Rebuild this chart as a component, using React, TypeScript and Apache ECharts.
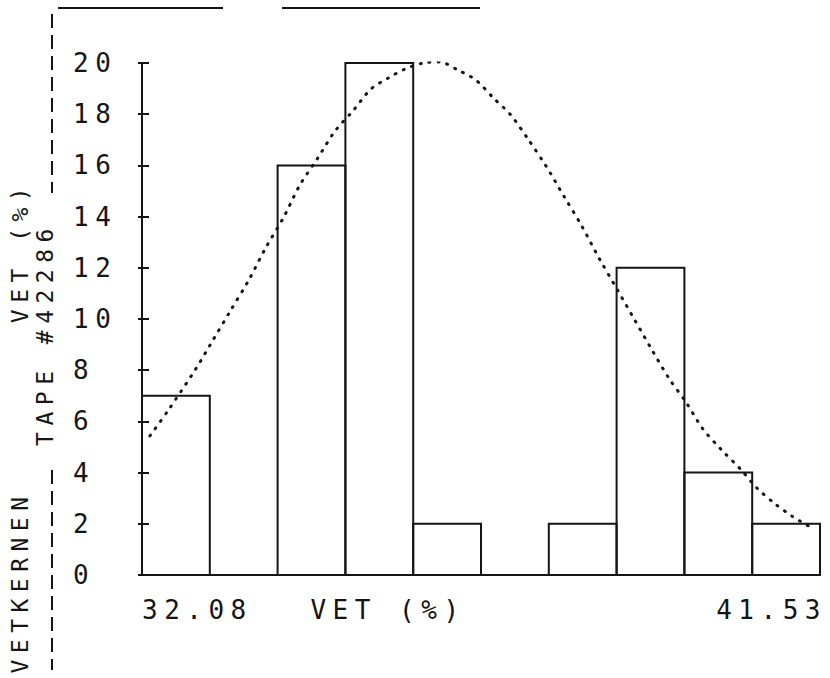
import React, { useEffect, useRef } from "react";
import * as echarts from "echarts";

// Histogram bins (VET %), edges and counts
const binEdges = [32.08, 33.025, 33.97, 34.915, 35.86, 36.805, 37.75, 38.695, 39.64, 40.585, 41.53];
const counts = [7, 0, 16, 20, 2, 0, 2, 12, 4, 2];

// Fitted normal curve (dotted)
const curveX = [32.19, 32.44, 32.82, 33.07, 33.31, 33.56, 33.81, 34.05, 34.28, 34.53, 34.77, 35.02, 35.27, 35.51, 35.75, 36.0, 36.23, 36.48, 36.73, 36.98, 37.22, 37.46, 37.71, 37.96, 38.21, 38.45, 38.7, 38.94, 39.18, 39.43, 39.66, 39.9, 40.16, 40.42, 40.65, 40.89, 41.14, 41.39];
const curveY = [5.43, 6.41, 8.01, 9.18, 10.31, 11.48, 12.81, 13.95, 15.23, 16.29, 17.34, 18.13, 18.98, 19.41, 19.77, 20.0, 20.04, 19.73, 19.34, 18.63, 17.97, 17.03, 15.98, 14.8, 13.63, 12.38, 11.17, 10.0, 8.83, 7.66, 6.76, 5.7, 4.88, 4.14, 3.4, 2.81, 2.3, 1.88];

// Axis settings and texts
const yMin = 0;
const yMax = 20;
const yInterval = 2;
const xTickLabels = ["32.08", "41.53"];
const xTitle = "VET (%)";
const yTitle = "VET (%)";
const tapeText = "TAPE #42286";
const sampleText = "VETKERNEN";

const INK = "#151515";
const MONO = "'DejaVu Sans Mono', 'Liberation Mono', monospace";
const css = "#root svg text { letter-spacing: 6.5px; }";

export default function App() {
  const ref = useRef<HTMLDivElement>(null);
  useEffect(() => {
    document.body.style.margin = "0";
    document.body.style.overflow = "hidden";
    const chart = echarts.init(ref.current!, null, { renderer: "svg" });
    const binData = counts.map((c, i) => [binEdges[i], binEdges[i + 1], c]);
    const xMin = binEdges[0];
    const xMax = binEdges[binEdges.length - 1];
    const option: any = {
      animation: false,
      backgroundColor: "#ffffff",
      grid: { left: 142, right: 10, top: 63, bottom: 103, containLabel: false },
      xAxis: {
        type: "value",
        min: xMin,
        max: xMax,
        interval: xMax - xMin,
        splitLine: { show: false },
        axisTick: { show: false },
        axisLine: { show: true, onZero: false, lineStyle: { color: INK, width: 2 } },
        axisLabel: {
          margin: 22,
          fontFamily: MONO,
          fontSize: 26,
          color: INK,
          showMinLabel: true,
          showMaxLabel: true,
          alignMinLabel: "left",
          alignMaxLabel: "right",
          padding: [0, -7, 0, 0],
          formatter: (v: number) => {
            let best = xTickLabels[0];
            let d = Infinity;
            xTickLabels.forEach((l) => {
              const dd = Math.abs(Number(l) - v);
              if (dd < d) { d = dd; best = l; }
            });
            return best;
          },
        },
      },
      yAxis: [
        {
          type: "value",
          min: yMin,
          max: yMax,
          interval: yInterval,
          position: "left",
          splitLine: { show: false },
          axisLine: { show: true, lineStyle: { color: INK, width: 2 } },
          axisTick: { show: true, length: 4, lineStyle: { color: INK, width: 2 } },
          axisLabel: {
            margin: 69,
            align: "left",
            fontFamily: MONO,
            fontSize: 26,
            color: INK,
            padding: [8, 0, 0, 0],
            formatter: (v: number) => String(v),
          },
        },
        {
          type: "value",
          min: yMin,
          max: yMax,
          interval: yInterval,
          position: "left",
          offset: 0,
          splitLine: { show: false },
          axisLine: { show: false },
          axisTick: { show: true, inside: true, length: 7, lineStyle: { color: INK, width: 2 } },
          axisLabel: { show: false },
        },
      ],
      series: [
        {
          type: "custom",
          xAxisIndex: 0,
          yAxisIndex: 0,
          encode: { x: [0, 1], y: 2 },
          data: binData,
          z: 2,
          renderItem: (params: any, api: any) => {
            const x0 = api.value(0);
            const x1 = api.value(1);
            const c = api.value(2);
            if (!c) return { type: "group", children: [] };
            const p0 = api.coord([x0, c]);
            const p1 = api.coord([x1, 0]);
            return {
              type: "rect",
              shape: { x: p0[0], y: p0[1], width: p1[0] - p0[0], height: p1[1] - p0[1] },
              style: { fill: "none", stroke: INK, lineWidth: 2 },
            };
          },
        },
        {
          type: "line",
          xAxisIndex: 0,
          yAxisIndex: 0,
          data: curveX.map((x, i) => [x, curveY[i]]),
          showSymbol: false,
          smooth: 0.3,
          z: 3,
          lineStyle: { color: INK, width: 3, type: [1, 8], cap: "round" },
        },
      ],
      graphic: [
        {
          type: "text",
          x: 388,
          y: 610,
          style: { text: xTitle, fontFamily: MONO, fontSize: 26, fill: INK, align: "center", verticalAlign: "middle" },
        },
        {
          type: "text",
          x: 20,
          y: 582,
          rotation: Math.PI / 2,
          style: { text: sampleText, fontFamily: MONO, fontSize: 23, fill: INK, align: "center", verticalAlign: "middle" },
        },
        {
          type: "text",
          x: 20,
          y: 252,
          rotation: Math.PI / 2,
          style: { text: yTitle, fontFamily: MONO, fontSize: 23, fill: INK, align: "center", verticalAlign: "middle" },
        },
        {
          type: "text",
          x: 45,
          y: 334,
          rotation: Math.PI / 2,
          style: { text: tapeText, fontFamily: MONO, fontSize: 23, fill: INK, align: "center", verticalAlign: "middle" },
        },
        {
          type: "line",
          shape: { x1: 52, y1: 14, x2: 52, y2: 193 },
          style: { stroke: INK, lineWidth: 2, lineDash: [14, 7] },
        },
        {
          type: "line",
          shape: { x1: 52, y1: 470, x2: 52, y2: 670 },
          style: { stroke: INK, lineWidth: 2, lineDash: [14, 7] },
        },
        {
          type: "line",
          shape: { x1: 58, y1: 8, x2: 223, y2: 8 },
          style: { stroke: INK, lineWidth: 2 },
        },
        {
          type: "line",
          shape: { x1: 282, y1: 8, x2: 480, y2: 8 },
          style: { stroke: INK, lineWidth: 2 },
        },
      ],
    };
    chart.setOption(option);
    return () => chart.dispose();
  }, []);
  return (
    <>
      <style>{css}</style>
      <div ref={ref} style={{ width: 830, height: 678 }} />
    </>
  );
}
